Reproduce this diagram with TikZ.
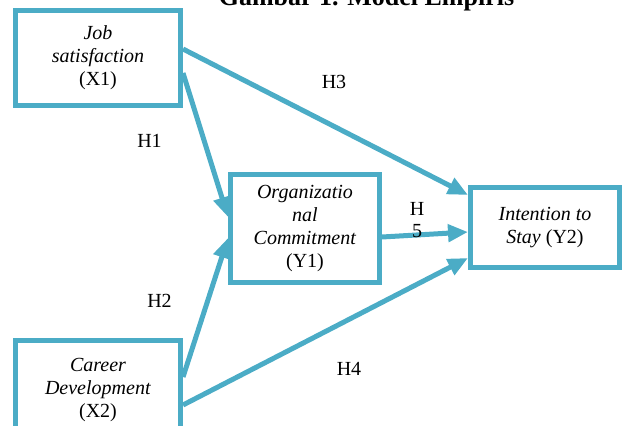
\documentclass[tikz,border=0pt]{standalone}
\usepackage{fontspec}
\setmainfont{Liberation Serif}
\usetikzlibrary{arrows.meta}
\definecolor{acc}{HTML}{4BACC6}
\begin{document}
\begin{tikzpicture}[x=1pt,y=-1pt,
  box/.style={draw=acc,line width=5pt,rectangle,inner sep=0pt,align=center,
    font=\fontsize{20}{23}\selectfont},
  link/.style={draw=acc,line width=5pt,-{Triangle[length=20pt,width=17pt]}},
  hlab/.style={anchor=base,font=\fontsize{20}{23}\selectfont,inner sep=0pt}]
\useasboundingbox (0,0) rectangle (627,426);
\clip (0,0) rectangle (627,426);
\node[anchor=base,font=\bfseries\fontsize{26}{30}\selectfont,inner sep=0pt] (title) at (366.5,5) {Gambar 1. Model Empiris};
\node[box,minimum width=165pt,minimum height=95pt] (X1) at (98,58) {\textit{Job}\\\textit{satisfaction}\\(X1)};
\node[box,minimum width=149pt,minimum height=108pt] (Y1) at (305,228.5) {\textit{Organizatio}\\\textit{nal}\\\textit{Commitment}\\(Y1)};
\node[box,minimum width=149pt,minimum height=80pt] (Y2) at (545,227.5) {\textit{Intention to}\\\textit{Stay} (Y2)};
\node[box,minimum width=165pt,minimum height=100pt] (X2) at (98,390.5) {\textit{Career}\\\textit{Development}\\(X2)};
\draw[link] ([yshift=-15pt]X1.east) -- ([yshift=11.5pt]Y1.west);
\draw[link] ([yshift=13.5pt]X2.east) -- ([yshift=-9.5pt]Y1.west);
\draw[link] ([yshift=9pt]X1.east) -- ([yshift=32.5pt]Y2.west);
\draw[link] ([yshift=-14.5pt]X2.east) -- ([yshift=-30.5pt]Y2.west);
\draw[link] ([yshift=-8.5pt]Y1.east) -- ([yshift=-4.5pt]Y2.west);
\node[hlab] (h1) at (149.5,147) {H1};
\node[hlab] (h2) at (159.5,307) {H2};
\node[hlab] (h3) at (334,88) {H3};
\node[hlab] (h4) at (349,375) {H4};
\node[hlab] (h5a) at (417,215) {H};
\node[hlab] (h5b) at (417,237) {5};
\end{tikzpicture}
\end{document}
